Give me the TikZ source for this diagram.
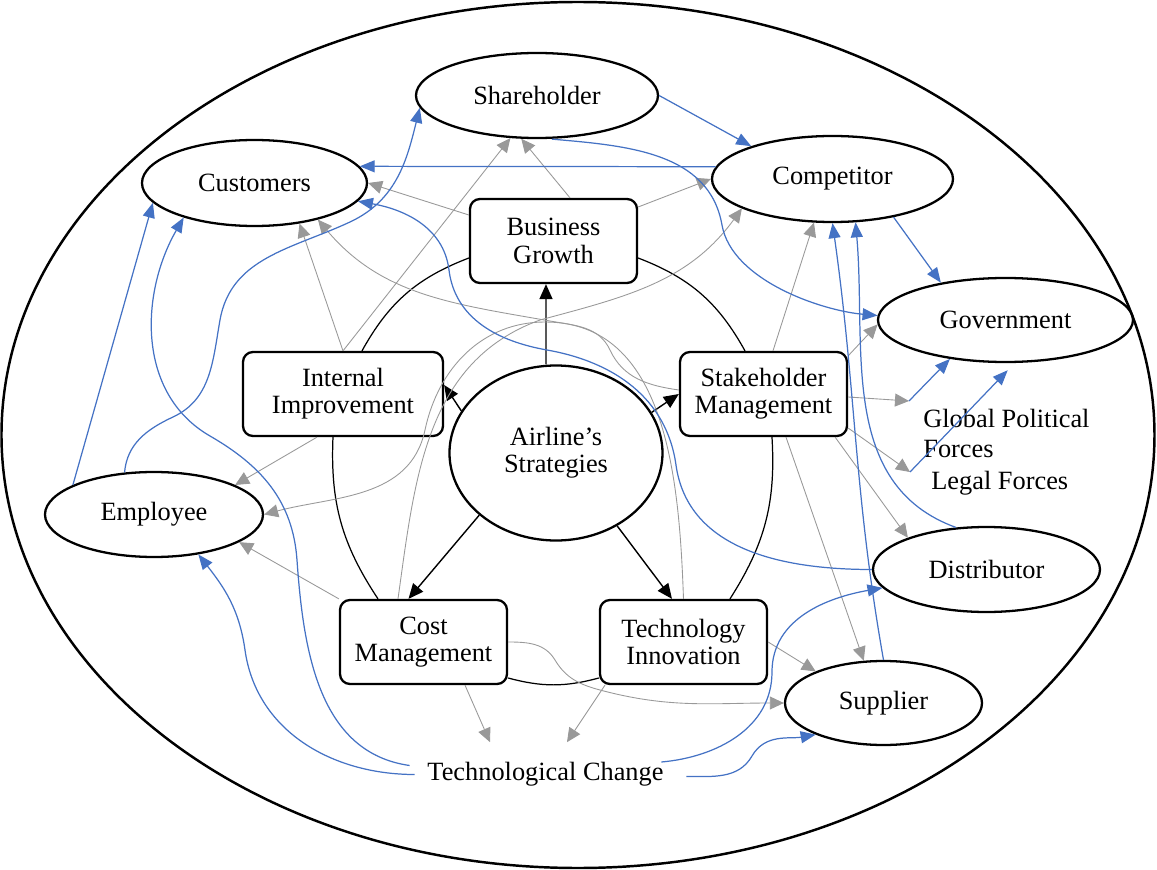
\documentclass[tikz,border=0pt]{standalone}
\usepackage{fontspec}
\setmainfont{Liberation Serif}
\usepackage{tikz}
\usetikzlibrary{arrows.meta,shapes,positioning,calc}

\definecolor{linkblue}{RGB}{68,114,196}
\definecolor{linkgrey}{RGB}{153,153,153}

\begin{document}
\begin{tikzpicture}[
  font=\fontsize{15}{15.5}\selectfont,
  party/.style={ellipse,draw,line width=1.3pt,inner sep=0pt},
  stratbox/.style={rectangle,draw,line width=1.3pt,rounded corners=0.2cm,align=center,minimum width=3.34cm,minimum height=1.68cm,inner sep=0pt},
  drive/.style={-{Triangle[length=0.3cm,width=0.26cm]},line width=0.8pt},
  ringarc/.style={line width=0.7pt},
  effect/.style={-{Triangle[length=0.28cm,width=0.26cm]},linkgrey,line width=0.5pt},
  impact/.style={-{Triangle[length=0.3cm,width=0.24cm]},linkblue,line width=0.7pt}]
\useasboundingbox (-11.12,-8.34) rectangle (12.02,9.06);
% environment
\node[ellipse,draw,line width=1.4pt,inner sep=0pt,minimum width=23.06cm,minimum height=17.32cm] (env) at (0.44,0.36) {};

% core strategy and the five strategies
\node[party,minimum width=4.26cm,minimum height=3.5cm,align=center] (strat) at (0,0) {Airline’s\\Strategies};
\node[stratbox] (bg) at (-0.05,4.24) {Business\\Growth};
\node[stratbox,minimum width=4cm] (ii) at (-4.26,1.18) {Internal\\Improvement};
\node[stratbox] (sm) at (4.15,1.18) {Stakeholder\\Management};
\node[stratbox] (cm) at (-2.65,-3.78) {Cost\\Management};
\node[stratbox] (ti) at (2.55,-3.78) {Technology\\Innovation};

% stakeholders
\node[party,minimum width=4.84cm,minimum height=1.7cm] (share) at (-0.38,7.15) {Shareholder};
\node[party,minimum width=4.5cm,minimum height=1.72cm] (cust) at (-6.03,5.4) {Customers};
\node[party,minimum width=4.82cm,minimum height=1.72cm] (comp) at (5.53,5.48) {Competitor};
\node[party,minimum width=5.1cm,minimum height=1.68cm] (gov) at (8.99,2.66) {Government};
\node[party,minimum width=4.36cm,minimum height=1.7cm] (emp) at (-8.04,-1.23) {Employee};
\node[party,minimum width=4.54cm,minimum height=1.7cm] (dist) at (8.61,-2.33) {Distributor};
\node[party,minimum width=3.94cm,minimum height=1.68cm] (sup) at (6.55,-5.0) {Supplier};

% outside forces
\node[inner xsep=0.25cm,inner ysep=0.4cm] (tc) at (-0.21,-6.43) {Technological Change};
\node[anchor=west,inner sep=0pt,align=left,font=\fontsize{15}{17.6}\selectfont] (gpf) at (7.34,0.39) {Global Political\\Forces};
\node[anchor=west,inner sep=0pt] (legal) at (7.5,-0.6) {Legal Forces};
\coordinate (gpj) at (7.06,1.04);
\coordinate (lfj) at (7.08,-0.38);

% strategy ring
\draw[drive] ([xshift=-0.2cm]strat.north) -- ([xshift=-0.15cm]bg.south);
\draw[drive] (strat.156) -- ([yshift=0.18cm]ii.east);
\draw[drive] (strat.23) -- (sm.west);
\draw[drive] (strat.219) -- ([xshift=-0.3cm]cm.north);
\draw[drive] (strat.310) -- ([xshift=-0.23cm]ti.north);
\draw[ringarc] ([yshift=-0.34cm]bg.west) to[bend right=20] ([xshift=0.38cm]ii.north);
\draw[ringarc] ([yshift=-0.34cm]bg.east) to[bend left=20] ([xshift=-0.37cm]sm.north);
\draw[ringarc] ([xshift=-0.2cm]ii.south) to[bend right=18] ([xshift=-0.91cm]cm.north);
\draw[ringarc] ([xshift=0.17cm]sm.south) to[bend left=18] ([xshift=0.93cm]ti.north);
\draw[ringarc] ([yshift=-0.72cm]cm.east) to[bend right=15] ([yshift=-0.72cm]ti.west);

% strategies acting on stakeholders
\draw[effect] ([yshift=0.52cm]bg.west) -- (cust.east);
\draw[effect] ([xshift=0.33cm]bg.north) -- (share.250);
\draw[effect] ([yshift=0.68cm]bg.east) -- (comp.west);
\draw[effect] (ii.north) -- (cust.318);
\draw[effect] (ii.north) -- (share.238);
\draw[effect] ([xshift=-0.52cm]ii.south) -- (emp.20);
\draw[effect] (cm.north west) -- (emp.342);
\draw[effect] ([xshift=0.83cm]cm.south) -- ([xshift=-1.11cm]tc.north);
\draw[effect] ([xshift=-1.57cm]ti.south) -- ([xshift=0.43cm]tc.north);
\draw[effect] (ti.east) -- (sup.155);
\draw[effect] ([xshift=0.19cm]sm.north) -- (comp.247);
\draw[effect] ([yshift=-0.1cm]sm.north east) -- (gov.182);
\draw[effect] ([yshift=-0.06cm]sm.east) -- (gpj);
\draw[effect] ([yshift=-0.68cm]sm.east) -- (lfj);
\draw[effect] ([xshift=-0.26cm]sm.south east) -- (dist.158);
\draw[effect] ([xshift=0.45cm]sm.south) -- (sup.115);
\draw[effect] ([xshift=-0.51cm]cm.north) to[out=82,in=200] (-0.32,2.66) to[out=15,in=234] (comp.198);
\draw[effect] (ti.north) to[out=92,in=0] (-0.22,2.62) to[out=180,in=78] (-2.62,0.46) to[out=258,in=15] (emp.east);
\draw[effect] ([yshift=0.08cm]sm.west) to[out=172,in=295] (1.08,2.06) to[out=115,in=350] (-0.12,2.64) to[out=170,in=310] (cust.330);
\draw[effect] (cm.east) to[out=0,in=121] (-0.02,-4.14) to[out=-59,in=165] (0.88,-4.74) to[out=-15,in=180] (sup.west);

% stakeholders acting on each other
\draw[impact] (share.east) -- (comp.158);
\draw[impact] (comp.174) -- (cust.9);
\draw[impact] (comp.328) -- (gov.150);
\draw[impact] ([xshift=0.3cm]share.south) to[out=-5,in=100] (3.32,4.56) to[out=-80,in=175,looseness=0.8] (gov.178);
\draw[impact] (emp.125) to[out=85,in=205] (-7.66,0.72) to[out=25,in=260] (-6.72,2.66) to[out=80,in=205] (-4.12,4.62) to[out=25,in=256] (share.186);
\draw[impact] (emp.160) -- (cust.191);
\draw[impact] ([shift={(-0.1,0.18)}]tc.west) to[out=172,in=274] (-5.18,-2.14) to[out=94,in=330] (-6.92,0.34) to[out=150,in=240] (cust.206);
\draw[impact] (tc.west) to[out=180,in=278] (-6.22,-3.94) to[out=98,in=308] (emp.318);
\draw[impact] ([shift={(-0.3,0.25)}]tc.east) to[out=5,in=270] (4.32,-4.38) to[out=90,in=190] (dist.190);
\draw[impact] ([shift={(0.2,-0.04)}]tc.east) to[out=0,in=240] (3.92,-6.06) to[out=60,in=190] (sup.205);
\draw[impact] (sup.north) to[out=100,in=278] (comp.south);
\draw[impact] (dist.126) to[out=160,in=275] (comp.298);
\draw[impact] (dist.west) to[out=180,in=278] (2.4,-0.24) to[out=98,in=350] (-0.18,2.06) to[out=170,in=277] (-2.14,3.66) to[out=97,in=350] (cust.350);
\draw[impact] (gpj) -- (gov.215);
\draw[impact,shorten >=0.2cm] (lfj) -- (gov.282);
\end{tikzpicture}
\end{document}
